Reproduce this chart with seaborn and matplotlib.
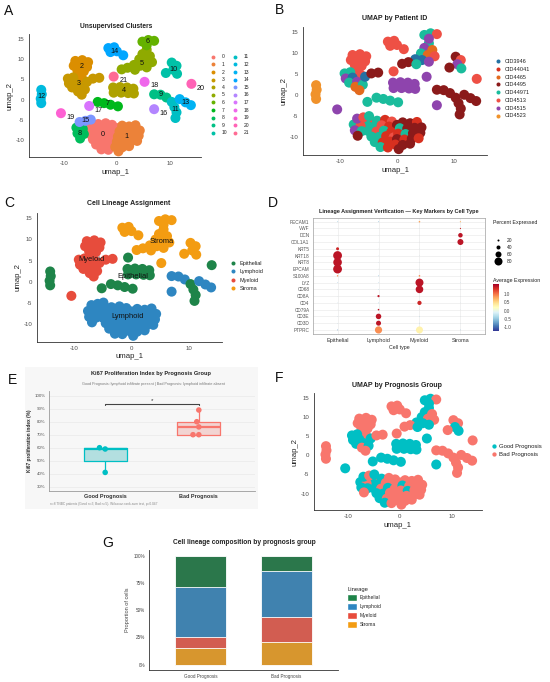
import numpy as np
import pandas as pd
import matplotlib
matplotlib.use("Agg")
import matplotlib.pyplot as plt
from matplotlib.lines import Line2D
from matplotlib.patches import Patch
from matplotlib.cm import ScalarMappable
from matplotlib.colors import Normalize
import seaborn as sns

# ---------------- data ----------------
patients = ["CID3946", "CID44041", "CID4465", "CID4495",
            "CID44971", "CID4513", "CID4515", "CID4523"]
patient_prognosis = ["Good Prognosis", "Bad Prognosis", "Bad Prognosis", "Bad Prognosis",
                     "Good Prognosis", "Bad Prognosis", "Good Prognosis", "Bad Prognosis"]
groups = ["Good Prognosis", "Bad Prognosis"]
lineages = ["Epithelial", "Lymphoid", "Myeloid", "Stroma"]
cluster_lineage = ["Lymphoid", "Lymphoid", "Myeloid", "Myeloid", "Epithelial", "Stroma",
                   "Stroma", "Epithelial", "Lymphoid", "Lymphoid", "Stroma", "Epithelial",
                   "Epithelial", "Lymphoid", "Stroma", "Lymphoid", "Lymphoid", "Epithelial",
                   "Stroma", "Myeloid", "Epithelial", "Epithelial"]

# UMAP cells, one line per cluster
umap_1 = [
    -4.8, -3.5, -2.1, -0.9, -5.3, -3.9, -2.7, -1.4, 0.0, -5.0, -3.6, -2.3, -1.0, -4.5, -3.2, -1.9, -0.6, -3.9, -2.5, -1.2, -2.9, -1.6,
    1.0, 2.3, 3.5, 0.5, 1.8, 3.1, 4.3, 0.2, 1.5, 2.8, 4.1, 0.0, 1.3, 2.6, 3.8, -0.3, 1.0, 2.3, 0.3,
    -7.8, -6.5, -5.4, -8.1, -6.9, -5.6, -7.4, -6.2, -6.8, -6.3,
    -9.2, -8.2, -9.0, -7.8, -8.4, -7.0, -7.3, -6.0, -5.6, -4.5, -3.3, -6.6,
    -0.7, 0.6, 1.9, 3.1, -0.6, 0.8, 2.1, 3.2,
    5.6, 4.8, 6.2, 4.2, 5.4, 6.6, 3.2, 4.4, 5.6, 2.0, 0.9, 3.4,
    4.8, 5.9, 7.0, 5.6,
    -3.6, -2.4, -1.2, 0.2,
    -7.6, -6.4, -7.4, -6.2, -6.9,
    7.0, 8.2, 9.3,
    10.3, 11.2, 10.6, 11.3, 9.2,
    10.3, 10.8, 11.2, 11.0,
    -14.2, -14.1, -14.3, -14.2,
    11.8, 12.9, 13.9,
    -1.6, -0.5, -1.2, 0.0, 1.2,
    -7.0, -5.9, -4.9,
    7.0,
    -5.2,
    5.2,
    -10.5,
    14.0,
    -0.6,
]
umap_2 = [
    -5.8, -6.1, -5.9, -6.3, -7.2, -7.4, -7.2, -7.5, -7.1, -8.6, -8.7, -8.5, -8.8, -9.9, -10.0, -9.8, -10.1, -11.2, -11.3, -11.1, -12.4, -12.5,
    -6.5, -6.7, -6.4, -7.9, -8.0, -7.8, -7.7, -9.2, -9.3, -9.1, -9.0, -10.5, -10.6, -10.4, -10.3, -11.8, -11.9, -11.6, -12.9,
    9.6, 9.8, 9.3, 8.4, 8.5, 8.1, 7.2, 7.0, 5.8, 4.8,
    5.2, 5.5, 4.0, 4.2, 3.0, 3.2, 2.0, 2.5, 4.4, 5.2, 5.4, 1.2,
    3.0, 3.1, 3.0, 2.7, 1.7, 1.7, 1.6, 1.5,
    12.4, 11.3, 10.8, 10.0, 9.6, 9.3, 8.6, 8.4, 8.0, 7.9, 7.5, 7.4,
    14.4, 14.8, 14.6, 13.5,
    -0.6, -0.9, -1.3, -1.7,
    -7.0, -7.3, -8.4, -8.6, -9.7,
    1.3, 1.2, 0.5,
    9.2, 8.4, 7.4, 6.4, 6.6,
    -0.6, -1.9, -3.2, -4.6,
    2.4, 1.3, 0.2, -0.9,
    0.1, -0.7, -1.4,
    12.8, 13.0, 11.8, 12.0, 11.0,
    -5.6, -5.3, -5.0,
    -2.4,
    -1.6,
    4.4,
    -3.4,
    3.9,
    5.7,
]
cell_cluster = [
    0, 0, 0, 0, 0, 0, 0, 0, 0, 0, 0, 0, 0, 0, 0, 0, 0, 0, 0, 0, 0, 0,
    1, 1, 1, 1, 1, 1, 1, 1, 1, 1, 1, 1, 1, 1, 1, 1, 1, 1, 1,
    2, 2, 2, 2, 2, 2, 2, 2, 2, 2,
    3, 3, 3, 3, 3, 3, 3, 3, 3, 3, 3, 3,
    4, 4, 4, 4, 4, 4, 4, 4,
    5, 5, 5, 5, 5, 5, 5, 5, 5, 5, 5, 5,
    6, 6, 6, 6,
    7, 7, 7, 7,
    8, 8, 8, 8, 8,
    9, 9, 9,
    10, 10, 10, 10, 10,
    11, 11, 11, 11,
    12, 12, 12, 12,
    13, 13, 13,
    14, 14, 14, 14, 14,
    15, 15, 15,
    16,
    17,
    18,
    19,
    20,
    21,
]
# index into patients
cell_patient = [
    5, 4, 1, 5, 4, 4, 5, 1, 3, 4, 5, 4, 1, 4, 4, 1, 5, 4, 1, 1, 4, 1,
    3, 3, 1, 4, 3, 3, 3, 1, 4, 3, 3, 3, 1, 3, 1, 1, 3, 3, 3,
    5, 5, 5, 5, 5, 5, 5, 5, 5, 5,
    4, 4, 6, 0, 4, 6, 2, 4, 0, 3, 3, 2,
    6, 6, 6, 6, 6, 6, 6, 6,
    4, 6, 2, 4, 2, 5, 0, 0, 6, 3, 3, 4,
    4, 4, 5, 6,
    4, 4, 4, 4,
    4, 5, 6, 4, 3,
    3, 3, 3,
    3, 5, 6, 4, 3,
    3, 3, 3, 3,
    7, 7, 7, 7,
    3, 3, 3,
    5, 5, 5, 5, 5,
    6, 5, 4,
    6,
    4,
    6,
    6,
    5,
    5,
]

# dot plot (panel D)
genes = ["PECAM1", "VWF", "DCN", "COL1A1", "KRT5", "KRT18", "KRT8", "EPCAM", "S100A8",
         "LYZ", "CD68", "CD8A", "CD4", "CD79A", "CD3E", "CD3D", "PTPRC"]
pct_epithelial = [8, 3, 3, 3, 30, 88, 86, 88, 14, 6, 4, 3, 4, 3, 4, 4, 8]
avg_epithelial = [-0.5, -0.5, -0.5, -0.5, 1.4, 1.5, 1.5, 1.5, 0.9, -0.6, -0.6, -0.5, -0.6, -0.5, -0.6, -0.6, -0.8]
pct_lymphoid = [8, 3, 3, 3, 3, 4, 4, 4, 8, 6, 6, 22, 8, 16, 55, 50, 72]
avg_lymphoid = [-0.6, -0.5, -0.5, -0.5, -0.5, -0.5, -0.5, -0.5, -0.6, -0.5, -0.5, 1.5, -0.4, 1.5, 1.5, 1.5, 0.9]
pct_myeloid = [16, 3, 3, 3, 3, 4, 4, 4, 16, 80, 76, 4, 42, 4, 6, 6, 70]
avg_myeloid = [0.8, -0.5, -0.5, -0.5, -0.5, -0.5, -0.5, -0.5, 0.9, 1.5, 1.5, -0.5, 1.4, -0.5, -0.5, -0.5, 0.3]
pct_stroma = [12, 12, 45, 60, 3, 3, 3, 3, 3, 4, 4, 3, 3, 3, 3, 3, 6]
avg_stroma = [0.7, 1.4, 1.5, 1.5, -0.5, -0.5, -0.5, -0.5, -0.6, -0.6, -0.6, -0.6, -0.6, -0.6, -0.6, -0.6, -0.7]

# Ki67 (panel E)
ki67_good = [41, 59, 60]
ki67_bad = [70, 70, 76, 80, 89]
sig_y = 94
sig_label = "*"

# composition (panel G), percent
prop_good = [29.0, 45.3, 10.7, 15.0]
prop_bad = [13.8, 42.2, 23.5, 20.5]


# ---------------- colours ----------------
def hue_pal(n, c=100.0, l=65.0):
    # ggplot2 default hue palette (HCL)
    Xn, Yn, Zn = 95.047, 100.0, 108.883
    un = 4 * Xn / (Xn + 15 * Yn + 3 * Zn)
    vn = 9 * Yn / (Xn + 15 * Yn + 3 * Zn)
    Y = Yn * ((l + 16) / 116) ** 3
    M = np.array([[3.2406, -1.5372, -0.4986],
                  [-0.9689, 1.8758, 0.0415],
                  [0.0557, -0.2040, 1.0570]])
    cols = []
    for h in np.linspace(15, 375, n + 1)[:-1]:
        u, v = c * np.cos(np.deg2rad(h)), c * np.sin(np.deg2rad(h))
        up, vp = u / (13 * l) + un, v / (13 * l) + vn
        X = Y * 9 * up / (4 * vp)
        Z = Y * (12 - 3 * up - 20 * vp) / (4 * vp)
        rgb = np.clip(M @ (np.array([X, Y, Z]) / 100), 0, 1)
        rgb = np.where(rgb <= 0.0031308, 12.92 * rgb, 1.055 * rgb ** (1 / 2.4) - 0.055)
        cols.append(tuple(np.clip(rgb, 0, 1)))
    return cols


cluster_names = [str(i) for i in range(len(cluster_lineage))]
cluster_palette = dict(zip(cluster_names, hue_pal(len(cluster_names))))
patient_palette = {"CID3946": "#2471A3", "CID44041": "#D7301F", "CID4465": "#E36A1E",
                   "CID4495": "#8B1A1A", "CID44971": "#1ABC9C", "CID4513": "#EE5045",
                   "CID4515": "#8E44AD", "CID4523": "#F0922B"}
lineage_palette = {"Epithelial": "#1E8449", "Lymphoid": "#2E86C1",
                   "Myeloid": "#E74C3C", "Stroma": "#F39C12"}
prog_palette = {"Good Prognosis": "#00BFC4", "Bad Prognosis": "#F8766D"}

cells = pd.DataFrame({
    "umap_1": umap_1,
    "umap_2": umap_2,
    "cluster": [str(c) for c in cell_cluster],
    "patient": [patients[p] for p in cell_patient],
})
cells["lineage"] = [cluster_lineage[c] for c in cell_cluster]
cells["prognosis"] = [patient_prognosis[p] for p in cell_patient]

# ---------------- figure ----------------
sns.set_style("white")
plt.rcParams["font.family"] = ["Liberation Sans", "DejaVu Sans"]
plt.rcParams["text.color"] = "#222222"
plt.rcParams["axes.unicode_minus"] = False

W, H = 550, 682
fig = plt.figure(figsize=(W / 100, H / 100), dpi=100)


def add_ax(x0, y0, x1, y1):
    return fig.add_axes([x0 / W, 1 - y1 / H, (x1 - x0) / W, (y1 - y0) / H])


def ftext(x, y, s, **kw):
    kw.setdefault("ha", "center")
    kw.setdefault("va", "center")
    return fig.text(x / W, 1 - y / H, s, **kw)


def umap_axes(ax):
    ax.set_xlim(-16.5, 15.8)
    ax.set_ylim(-14.3, 16.3)
    ax.set_xticks([-10, 0, 10])
    ax.set_yticks([-10, -5, 0, 5, 10, 15])
    sns.despine(ax=ax)
    for side in ("left", "bottom"):
        ax.spines[side].set_linewidth(0.6)
        ax.spines[side].set_color("#333333")
    ax.tick_params(length=2, width=0.5, pad=1.2, labelsize=4.4,
                   color="#333333", labelcolor="#4D4D4D")
    ax.set_xlabel("umap_1", fontsize=5.6, labelpad=1.5)
    ax.set_ylabel("umap_2", fontsize=5.6, labelpad=1.5)


def dot_legend(handles, labels, x, y, fs, pad, ls, ncol=1, colsp=1.0):
    return fig.legend(handles, labels, loc="upper left",
                      bbox_to_anchor=(x / W, 1 - y / H), ncol=ncol, frameon=False,
                      fontsize=fs, handlelength=0.8, handletextpad=pad,
                      labelspacing=ls, columnspacing=colsp, borderpad=0,
                      borderaxespad=0)


def dot(color, ms):
    return Line2D([], [], marker="o", ls="", color=color, markersize=ms, markeredgewidth=0)


PT = 52  # point area for UMAP cells

# ---- A: clusters ----
axA = add_ax(29, 34, 201, 157)
sns.scatterplot(data=cells, x="umap_1", y="umap_2", hue="cluster", hue_order=cluster_names,
                palette=cluster_palette, s=PT, linewidth=0, legend=False, ax=axA)
umap_axes(axA)
sizes = cells["cluster"].value_counts()
for name, row in cells.groupby("cluster")[["umap_1", "umap_2"]].median().iterrows():
    off = (7, -3) if sizes[name] < 3 else (0, 0)
    axA.annotate(name, (row["umap_1"], row["umap_2"]), xytext=off, textcoords="offset points",
                 ha="center", va="center", fontsize=5.2, color="#111111")
ftext(116, 26, "Unsupervised Clusters", fontsize=4.8, fontweight="bold")
dot_legend([dot(cluster_palette[n], 2.8) for n in cluster_names], cluster_names,
           211, 54.5, 3.6, 1.3, 0.52, ncol=2, colsp=1.15)

# ---- B: patients ----
axB = add_ax(303, 27, 487, 155)
sns.scatterplot(data=cells, x="umap_1", y="umap_2", hue="patient", hue_order=patients,
                palette=patient_palette, s=PT, linewidth=0, legend=False, ax=axB)
umap_axes(axB)
ftext(395, 18, "UMAP by Patient ID", fontsize=5.0, fontweight="bold")
dot_legend([dot(patient_palette[p], 2.9) for p in patients], patients,
           495.5, 59, 4.0, 0.92, 0.5)

# ---- C: lineage ----
axC = add_ax(37, 213, 222, 341.7)
sns.scatterplot(data=cells, x="umap_1", y="umap_2", hue="lineage", hue_order=lineages,
                palette=lineage_palette, s=PT, linewidth=0, legend=False, ax=axC)
umap_axes(axC)
for name, row in cells.groupby("lineage")[["umap_1", "umap_2"]].median().iterrows():
    axC.text(row["umap_1"], row["umap_2"], name, ha="center", va="center",
             fontsize=5.4, color="#111111")
ftext(129, 204, "Cell Lineage Assignment", fontsize=5.0, fontweight="bold")
dot_legend([dot(lineage_palette[l], 2.9) for l in lineages], lineages,
           231, 260.8, 4.0, 0.8, 0.62)

# ---- D: dot plot ----
dot_rows = []
for ct, pcts, avgs in zip(lineages,
                          [pct_epithelial, pct_lymphoid, pct_myeloid, pct_stroma],
                          [avg_epithelial, avg_lymphoid, avg_myeloid, avg_stroma]):
    for g, p, a in zip(genes, pcts, avgs):
        dot_rows.append({"celltype": ct, "gene": g, "pct": p, "avg": a})
dots = pd.DataFrame(dot_rows)
dots["pct_sq"] = dots["pct"] ** 2  # radius proportional to percent

expr_norm = (-1.26, 1.63)
axD = add_ax(313, 218, 485, 334)
axD.set_axisbelow(True)
sns.scatterplot(data=dots, x="celltype", y="gene", size="pct_sq", sizes=(0, 52),
                size_norm=(0, 10000), hue="avg", palette="RdYlBu_r", hue_norm=expr_norm,
                linewidth=0, legend=False, ax=axD, zorder=3)
axD.set_xlim(-0.6, 3.6)
axD.set_ylim(len(genes) - 0.4, -0.55)
axD.grid(True, color="#E6E6E6", lw=0.4)
for sp in axD.spines.values():
    sp.set_color("#A0A0A0")
    sp.set_linewidth(0.5)
axD.tick_params(axis="y", length=1.5, width=0.4, pad=1, labelsize=3.4, labelcolor="#555555", color="#888888")
axD.tick_params(axis="x", length=1.5, width=0.4, pad=1.5, labelsize=4.0, labelcolor="#333333", color="#888888")
axD.set_ylabel("")
axD.set_xlabel("Cell type", fontsize=3.8, labelpad=1)
ftext(399, 211.7, "Lineage Assignment Verification \u2014 Key Markers by Cell Type",
      fontsize=4.0, fontweight="bold")
ftext(493, 223, "Percent Expressed", fontsize=3.8, ha="left")
pct_keys = [20, 40, 60, 80]
fig.legend([dot("black", np.sqrt(52) * p / 100) for p in pct_keys], [str(p) for p in pct_keys],
           loc="upper left", bbox_to_anchor=(494 / W, 1 - 237.5 / H), frameon=False,
           fontsize=3.5, handlelength=1.6, handletextpad=1.0, labelspacing=0.45,
           borderpad=0, borderaxespad=0)
ftext(493, 280.7, "Average Expression", fontsize=3.8, ha="left")
cax = add_ax(493, 284, 499, 331)
cb = fig.colorbar(ScalarMappable(norm=Normalize(*expr_norm), cmap="RdYlBu_r"), cax=cax)
cb.outline.set_visible(False)
cb.set_ticks([-1.0, -0.5, 0.0, 0.5, 1.0])
cb.set_ticklabels(["-1.0", "-0.5", "0.0", "0.5", "1.0"])
cax.tick_params(length=1.5, width=0.4, color="white", pad=2, labelsize=3.3, labelcolor="#444444")

# ---- E: Ki67 ----
bgE = add_ax(25, 367, 258, 509)
bgE.set_facecolor("#F7F7F7")
bgE.set_xticks([])
bgE.set_yticks([])
for sp in bgE.spines.values():
    sp.set_visible(False)

ki67 = pd.DataFrame({
    "group": [groups[0]] * len(ki67_good) + [groups[1]] * len(ki67_bad),
    "ki67": ki67_good + ki67_bad,
})
axE = add_ax(49, 390.5, 255, 491)
axE.set_facecolor("#F7F7F7")
axE.set_axisbelow(True)
sns.boxplot(data=ki67, x="group", y="ki67", hue="group", order=groups, hue_order=groups,
            palette=prog_palette, width=0.46, linewidth=0, showcaps=False, showfliers=False,
            boxprops=dict(alpha=0.3), legend=False, ax=axE)
sns.boxplot(data=ki67, x="group", y="ki67", hue="group", order=groups, hue_order=groups,
            palette=prog_palette, width=0.46, fill=False, linewidth=0.9, showcaps=False,
            showfliers=False, medianprops=dict(linewidth=1.6), legend=False, ax=axE)
sns.swarmplot(data=ki67, x="group", y="ki67", hue="group", order=groups, hue_order=groups,
              palette=prog_palette, size=4, legend=False, ax=axE)
axE.plot([0, 0, 1, 1], [sig_y - 0.9, sig_y, sig_y, sig_y - 0.9], color="#444444", lw=0.8)
axE.text(0.5, sig_y + 0.6, sig_label, ha="center", va="bottom", fontsize=4.5, color="#333333")
axE.set_xlim(-0.6, 1.6)
axE.set_ylim(26.7, 104)
axE.set_yticks(range(30, 101, 10))
axE.set_yticklabels([f"{v}%" for v in range(30, 101, 10)])
axE.grid(True, axis="y", color="#E6E6E6", lw=0.4)
sns.despine(ax=axE)
for side in ("left", "bottom"):
    axE.spines[side].set_color("#9A9A9A")
    axE.spines[side].set_linewidth(0.6)
axE.tick_params(axis="y", length=1.5, width=0.4, pad=1, labelsize=3.2, labelcolor="#555555", color="#9A9A9A")
axE.tick_params(axis="x", length=0, pad=2, labelsize=4.0, labelcolor="#333333")
for t in axE.get_xticklabels():
    t.set_fontweight("bold")
axE.set_xlabel("")
axE.set_ylabel("Ki67 proliferation index (%)", fontsize=3.4, fontweight="bold", labelpad=2)
ftext(151, 374, "Ki67 Proliferation Index by Prognosis Group", fontsize=4.1, fontweight="bold")
ftext(153, 384, "Good Prognosis: lymphoid infiltrate present | Bad Prognosis: lymphoid infiltrate absent",
      fontsize=2.7, color="#777777")
ftext(49.5, 504, "n=8 TNBC patients (Good n=3, Bad n=5). Wilcoxon rank-sum test, p=0.047",
      fontsize=2.3, color="#888888", ha="left")

# ---- F: prognosis ----
axF = add_ax(314, 393, 482, 510)
sns.scatterplot(data=cells, x="umap_1", y="umap_2", hue="prognosis", hue_order=groups,
                palette=prog_palette, s=PT, linewidth=0, legend=False, ax=axF)
umap_axes(axF)
ftext(397, 385, "UMAP by Prognosis Group", fontsize=5.0, fontweight="bold")
dot_legend([dot(prog_palette[g], 3.1) for g in groups], groups, 491.3, 443.5, 4.3, 0.48, 0.55)

# ---- G: composition ----
comp = pd.DataFrame({
    "group": [g for g in groups for _ in lineages],
    "lineage": lineages * 2,
    "prop": prop_good + prop_bad,
})
stack_order = ["Stroma", "Myeloid", "Lymphoid", "Epithelial"]  # bottom to top
cum = comp.pivot(index="group", columns="lineage", values="prop").loc[groups, stack_order].cumsum(axis=1)
axG = add_ax(149, 550, 338, 670)
for lin in reversed(stack_order):
    sns.barplot(x=groups, y=cum[lin].values, order=groups, color=lineage_palette[lin],
                width=0.6, edgecolor="white", linewidth=0.6, errorbar=None, ax=axG)
axG.set_xlim(-0.6, 1.6)
axG.set_ylim(-4.9, 105.2)
axG.set_yticks([0, 25, 50, 75, 100])
axG.set_yticklabels(["0%", "25%", "50%", "75%", "100%"])
sns.despine(ax=axG)
for side in ("left", "bottom"):
    axG.spines[side].set_color("#333333")
    axG.spines[side].set_linewidth(0.6)
axG.tick_params(length=1.5, width=0.4, pad=1.2, labelsize=3.3, labelcolor="#444444", color="#333333")
axG.set_ylabel("Proportion of cells", fontsize=4.0, color="#444444", labelpad=3)
ftext(244, 542.7, "Cell lineage composition by prognosis group", fontsize=4.8, fontweight="bold")
fig.legend([Patch(facecolor=lineage_palette[l], edgecolor="white") for l in lineages], lineages,
           title="Lineage", title_fontsize=4.2, alignment="left", loc="upper left",
           bbox_to_anchor=(347 / W, 1 - 587.5 / H), frameon=False, fontsize=3.6,
           handlelength=1.9, handleheight=1.9, handletextpad=0.6, labelspacing=0.3,
           borderpad=0, borderaxespad=0)

# ---- panel letters ----
for letter, (x, y) in {"A": (9, 11), "B": (279, 10), "C": (9, 203), "D": (273, 203),
                       "E": (12, 380), "F": (279, 378), "G": (108, 543)}.items():
    ftext(x, y, letter, fontsize=10, color="#111111")

fig.savefig("out.png", dpi=100)
